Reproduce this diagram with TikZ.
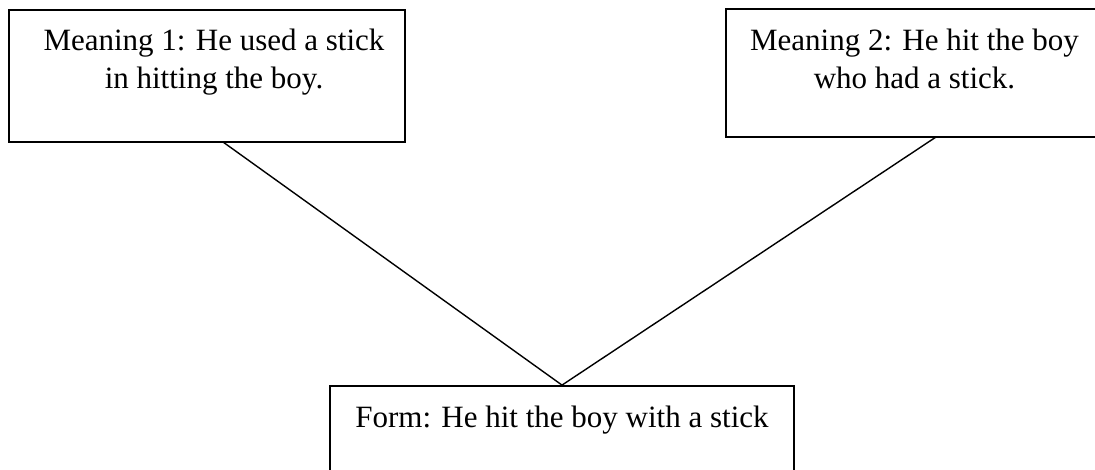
\documentclass[tikz,border=0pt]{standalone}
\usepackage{fontspec}
\setmainfont{Liberation Serif}
\begin{document}
\begin{tikzpicture}[x=0.5pt,y=-0.5pt,
  frame/.style={draw, line width=0.9pt, inner sep=0pt},
  label/.style={anchor=north, align=center, inner sep=0pt,
    font=\fontsize{15.5}{19}\selectfont},
  link/.style={line width=0.7pt}]
\useasboundingbox (0,0) rectangle (1095,470);
% the two readings (the right one and the sentence run past the page edge)
\node[frame, minimum width=198pt, minimum height=66pt] (m1) at (207,76) {};
\node[frame, minimum width=188pt, minimum height=64pt] (m2) at (914,73) {};
% the sentence
\node[frame, minimum width=232pt, minimum height=60pt] (form) at (562,446) {};
\node[label] (t1) at (214,28.6) {Meaning 1: He used a stick\\in hitting the boy.};
\node[label] (t2) at (914.5,28.6) {Meaning 2: He hit the boy\\who had a stick.};
\node[label] (t3) at (562,405.6) {Form: He hit the boy with a stick};
% links from the sentence up to each reading
\coordinate (m1end) at (223,142);
\coordinate (m2end) at (936,137);
\draw[link] (m1end) -- (form.north);
\draw[link] (m2end) -- (form.north);
\end{tikzpicture}
\end{document}
